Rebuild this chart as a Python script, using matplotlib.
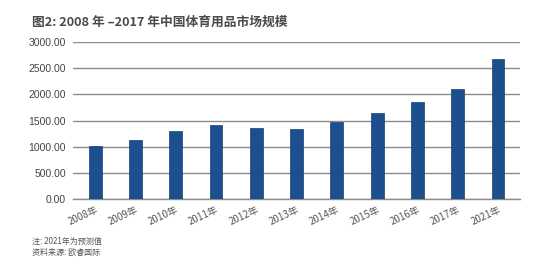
import matplotlib.pyplot as plt
import numpy as np

plt.rcParams['font.family'] = ['Noto Sans CJK SC', 'DejaVu Sans']

years = ['2008年', '2009年', '2010年', '2011年', '2012年', '2013年',
         '2014年', '2015年', '2016年', '2017年', '2021年']
market = [1010, 1127, 1299, 1408, 1363, 1331, 1471, 1649, 1859, 2102, 2669]
yticks = [0, 500, 1000, 1500, 2000, 2500, 3000]

fig = plt.figure(figsize=(5.51, 2.63), dpi=100)
ax = fig.add_axes([0.1325, 0.2433, 0.944 - 0.1325, 0.840 - 0.2433])

x = np.arange(len(years))
ax.set_axisbelow(True)
ax.yaxis.grid(True, color='#8c8c8c', linewidth=1.0)
ax.bar(x, market, width=0.32, color='#1d4f8f', edgecolor='#163f73', linewidth=0.5, zorder=3)

ax.set_xlim(-0.55, len(years) - 0.45)
ax.set_ylim(0, 3000)
ax.set_yticks(yticks)
ax.set_yticklabels([f'{v:.2f}' for v in yticks], fontsize=7.5, color='#444444',
                   family=['Liberation Sans', 'DejaVu Sans'])
ax.set_xticks(x)
ax.set_xticklabels(years, fontsize=7, color='#555555', rotation=25, ha='right',
                   rotation_mode='anchor')
ax.tick_params(axis='y', length=0, pad=5)
ax.tick_params(axis='x', length=0, pad=4)
for s in ['top', 'right', 'left']:
    ax.spines[s].set_visible(False)
ax.spines['bottom'].set_color('#8c8c8c')
ax.spines['bottom'].set_linewidth(1.0)

fig.text(0.058, 0.916, '图2: 2008 年 –2017 年中国体育用品市场规模', fontsize=9.2,
         fontweight='bold', color='#4a4a4a', va='center')
fig.text(0.058, 0.084, '注: 2021年为预测值', fontsize=5.8, style='italic',
         color='#555555', va='center')
fig.text(0.058, 0.042, '资料来源: 欧睿国际', fontsize=5.8, style='italic',
         color='#555555', va='center')

fig.savefig('out.png', dpi=100)
